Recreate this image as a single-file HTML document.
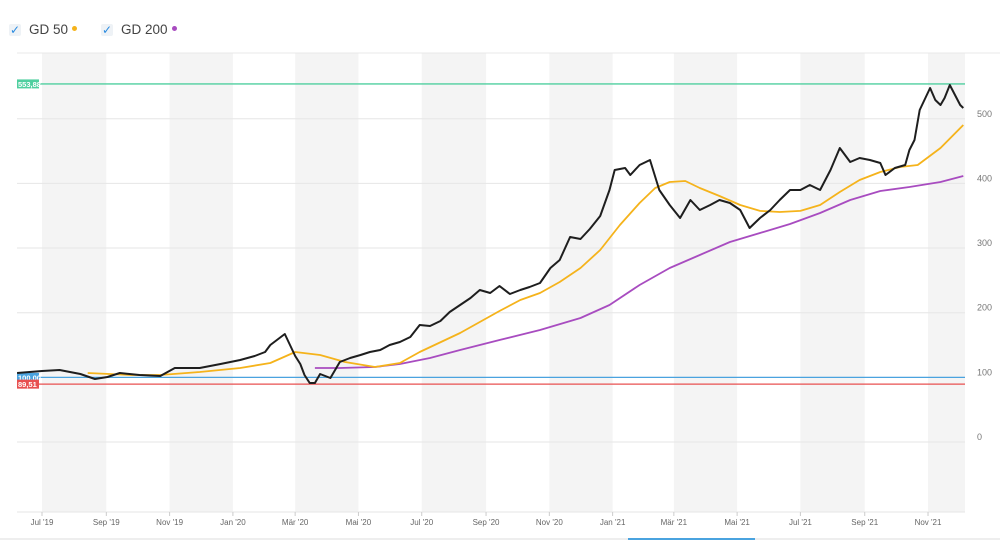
<!DOCTYPE html>
<html><head><meta charset="utf-8"><style>
body{margin:0;background:#fff;font-family:"Liberation Sans",sans-serif}
#wrap{position:relative;width:1000px;height:541px;overflow:hidden}
.lg{position:absolute;top:22px;font-size:13.5px;color:#444;display:flex;align-items:center}
.cb{width:12px;height:12px;background:#eef2f6;border-radius:2px;margin-right:8px;color:#2a8be0;font-size:12px;line-height:12px;text-align:center}
.dot{width:5px;height:5px;border-radius:50%;margin-left:4px;margin-top:-2px}
</style></head><body>
<div id="wrap">
<div class="lg" style="left:9px"><div class="cb">✓</div>GD 50<div class="dot" style="background:#f5b31b"></div></div>
<div class="lg" style="left:101px"><div class="cb">✓</div>GD 200<div class="dot" style="background:#a84cc0"></div></div>
<svg id="c" width="1000" height="541" style="position:absolute;left:0;top:0"></svg>
</div>
<script>
const priceDays=[-24,0,17,37,51,63,75,94,114,128,152,172,191,205,215,220,234,239,244,249,253,258,263,268,278,287,297,307,316,326,335,345,355,364,374,384,393,403,413,422,432,441,451,461,470,480,490,499,509,519,528,538,547,552,562,567,576,586,595,605,615,625,634,644,653,663,673,682,692,702,711,721,731,740,750,760,769,779,788,798,808,813,822,832,836,841,846,856,861,866,870,875,880,885,888];
const priceVals=[106.7,109.8,111.4,105.2,97.5,100.5,106.7,103.6,102.1,114.5,114.5,120.6,126.8,133,139.2,150,167.1,150,133,120.6,103.6,91.2,91.2,105.2,99,123.7,129.9,134.6,139.2,142.3,150,154.7,162.4,181,179.4,187.2,201.1,211.9,222.7,235.1,230.5,241.3,228.9,235.1,239.8,245.9,269.1,281.5,317.1,314,329.5,349.6,389.8,420.7,423.8,413,428.5,436.2,389.8,366.6,346.5,374.3,358.9,366.6,374.3,369.7,358.9,331,346.5,358.9,374.3,389.8,389.8,397.5,389.8,420.7,454.8,433.1,439.3,436.2,431.6,413,423.8,428.5,451.7,467.1,513.5,547.6,529,521.3,532.1,552.2,536.7,521.3,516.6];
const gd50Days=[44,85,114,152,191,220,244,268,292,321,345,364,403,441,461,480,499,519,538,557,576,591,605,620,634,653,673,692,711,731,750,769,788,808,827,844,866,888];
const gd50Vals=[106.7,103.6,103.6,108.3,114.5,122.2,139.2,134.6,123.7,116,122.2,139.2,168.6,202.6,219.6,230.5,247.5,269.1,297,335.7,369.7,392.9,402.1,403.7,392.9,380.5,366.6,357.4,355.8,357.4,366.6,386.7,405.3,417.6,425.4,428.5,454.8,490.3];
const gd200Days=[263,287,321,345,374,403,441,480,519,547,576,605,634,663,692,721,750,779,808,836,866,888];
const gd200Vals=[114.5,114.5,116,120.6,129.9,142.3,157.8,173.2,191.8,211.9,242.9,269.1,289.3,309.4,323.3,337.2,354.2,374.3,388.2,394.4,402.2,411.4];
const yTicks=[0,100,200,300,400,500];
const monthLabels=["Jul '19","Sep '19","Nov '19","Jan '20","Mär '20","Mai '20","Jul '20","Sep '20","Nov '20","Jan '21","Mär '21","Mai '21","Jul '21","Sep '21","Nov '21"];
const monthDays=[0,62,123,184,244,305,366,428,489,550,609,670,731,793,854];
const refLines=[{v:553.88,c:"#4fcf9f",t:"553,88"},{v:100,c:"#4aa3df",t:"100,00"},{v:89.51,c:"#e85050",t:"89,51"}];
const X=d=>42+d*1.0375, Y=v=>442-v*0.6465;
const L=17,R=965,T=53,B=512;
const svg=document.getElementById('c');const NS="http://www.w3.org/2000/svg";
function mk(tag,a,p){const e=document.createElementNS(NS,tag);for(const k in a)e.setAttribute(k,a[k]);(p||svg).appendChild(e);return e;}
const bands=mk('g',{});
for(let i=0;i<monthDays.length;i+=2){const x1=X(monthDays[i]);const x2=i+1<monthDays.length?X(monthDays[i+1]):R;
 const r=mk('rect',{x:x1,y:T,width:Math.min(x2,R)-x1,height:B-T,fill:"#f4f4f4"},bands);}
mk('line',{x1:L,x2:1000,y1:T,y2:T,stroke:"#e8e8e8"});
yTicks.forEach(v=>{const g=mk('line',{x1:L,x2:R,y1:Y(v),y2:Y(v),stroke:"#e6e6e6"});
 const t=mk('text',{x:977,y:Y(v)-2,"font-size":"9",fill:"#777","font-family":"Liberation Sans"});t.textContent=v;});
mk('line',{x1:L,x2:R,y1:B,y2:B,stroke:"#e6e6e6"});
monthLabels.forEach((m,i)=>{const x=X(monthDays[i]);mk('line',{x1:x,x2:x,y1:B,y2:B+4,stroke:"#ccc"});
 const t=mk('text',{x:x,y:525,"font-size":"8","text-anchor":"middle",fill:"#666","font-family":"Liberation Sans"});t.textContent=m;});
mk('line',{x1:0,x2:1000,y1:539,y2:539,stroke:"#eee",'stroke-width':2});
mk('line',{x1:628,x2:755,y1:539,y2:539,stroke:"#4aa3df",'stroke-width':2});
refLines.forEach(r=>{const y=Y(r.v);const l=mk('line',{x1:L,x2:R,y1:y,y2:y,stroke:r.c,'stroke-width':1.3});
 const b=mk('rect',{x:L,y:y-4.5,width:22,height:9,fill:r.c});
 const t=mk('text',{x:L+1,y:y+3,"font-size":"7.5",fill:"#fff","font-weight":"bold","font-family":"Liberation Sans"});t.textContent=r.t;});
function line(days,vals,col,w,name){const d=days.map((x,i)=>(i?'L':'M')+X(x).toFixed(1)+','+Y(vals[i]).toFixed(1)).join('');
 const p=mk('path',{d:d,fill:'none',stroke:col,'stroke-width':w,'stroke-linejoin':'round'});}
line(gd200Days,gd200Vals,"#a84cc0",1.8,'gd200-line');
line(gd50Days,gd50Vals,"#f5b31b",1.8,'gd50-line');
line(priceDays,priceVals,"#1e1e1e",2,'price-line');
</script></body></html>
